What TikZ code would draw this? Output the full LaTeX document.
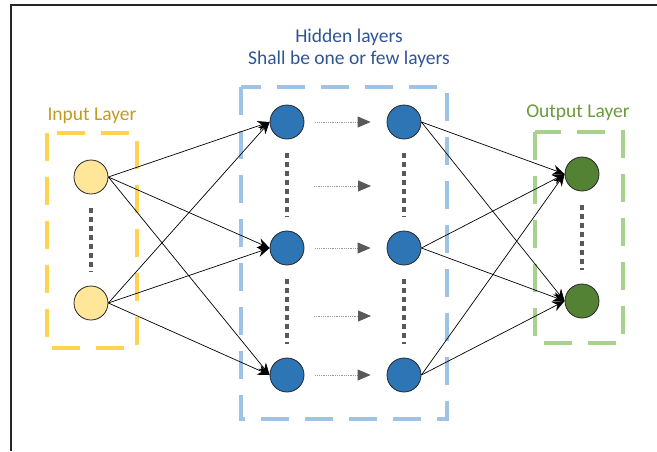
\documentclass[tikz,border=0pt]{standalone}
\usepackage{fontspec}
\setmainfont{Carlito}
\usetikzlibrary{arrows.meta}
\definecolor{inyellow}{HTML}{FFE699}
\definecolor{inbox}{HTML}{FFD34F}
\definecolor{intext}{HTML}{C29A1E}
\definecolor{hidblue}{HTML}{2E75B6}
\definecolor{hidbox}{HTML}{9DC3E6}
\definecolor{hidtext}{HTML}{2F5597}
\definecolor{outgreen}{HTML}{548235}
\definecolor{outbox}{HTML}{A9D18E}
\definecolor{outtext}{HTML}{6A9A3E}
\definecolor{dotgray}{HTML}{595959}
\tikzset{
  neuron/.style={
      circle,
      draw=black!85,
      line width=0.8pt,
      minimum size=34pt,
      inner sep=0pt
  },
  inneuron/.style={neuron, fill=inyellow},
  hidneuron/.style={neuron, fill=hidblue},
  outneuron/.style={neuron, fill=outgreen},
  layerbox/.style={line width=3.5pt, dash pattern=on 28pt off 16pt},
  layerlabel/.style={font=\fontsize{19.5}{22}\selectfont, align=center},
  link/.style={-{Stealth[length=12pt,width=10pt]}, line width=0.7pt},
  vdots/.style={draw=dotgray, line width=3.5pt, dash pattern=on 5pt off 4pt,
      shorten <=14pt, shorten >=14pt},
  hflow/.style={draw=gray!80, line width=0.8pt, densely dotted,
      -{Triangle[length=13pt,width=11pt,color=dotgray,fill=dotgray,sharp]}}
}
\begin{document}
\begin{tikzpicture}[x=1pt,y=-1pt]
  \useasboundingbox (0,0) rectangle (657,451);
  \draw[line width=1.8pt, black!85] (11,451) -- (11,5) -- (657,5);

  \draw[layerbox, inbox] (47,133) rectangle (137,348);
  \draw[layerbox, hidbox] (241,87) rectangle (447,419);
  \draw[layerbox, outbox] (535,132) rectangle (623,343);

  \node[layerlabel, text=intext] (inlabel) at (92,116) {Input Layer};
  \node[layerlabel, text=hidtext] (hidlabel) at (349,48) {Hidden layers\\Shall be one or few layers};
  \node[layerlabel, text=outtext] (outlabel) at (578,113) {Output Layer};

  \node[inneuron] (i1) at (91,177) {};
  \node[inneuron] (i2) at (91,303) {};
  \node[hidneuron] (h11) at (287,122) {};
  \node[hidneuron] (h12) at (287,248) {};
  \node[hidneuron] (h13) at (287,375) {};
  \node[hidneuron] (h21) at (404,122) {};
  \node[hidneuron] (h22) at (404,248) {};
  \node[hidneuron] (h23) at (404,375) {};
  \node[outneuron] (o1) at (582,174) {};
  \node[outneuron] (o2) at (582,301) {};

  \coordinate (ga) at (314,186);
  \coordinate (gb) at (371,186);
  \coordinate (gc) at (314,316);
  \coordinate (gd) at (371,316);

  \draw[vdots] (i1) -- (i2);
  \draw[vdots] (o1) -- (o2);
  \foreach \c in {1,2}{
    \draw[vdots] (h\c1) -- (h\c2);
    \draw[vdots] (h\c2) -- (h\c3);
  }

  \foreach \r in {1,2,3}
    \draw[hflow, shorten <=11pt, shorten >=16pt] (h1\r) -- (h2\r);
  \draw[hflow] (ga) -- (gb);
  \draw[hflow] (gc) -- (gd);

  \foreach \i in {1,2}
    \foreach \j in {1,2,3}
      \draw[link] (i\i.east) -- (h1\j.west);
  \foreach \j in {1,2,3}
    \foreach \k in {1,2}
      \draw[link] (h2\j.east) -- (o\k.west);
\end{tikzpicture}
\end{document}
